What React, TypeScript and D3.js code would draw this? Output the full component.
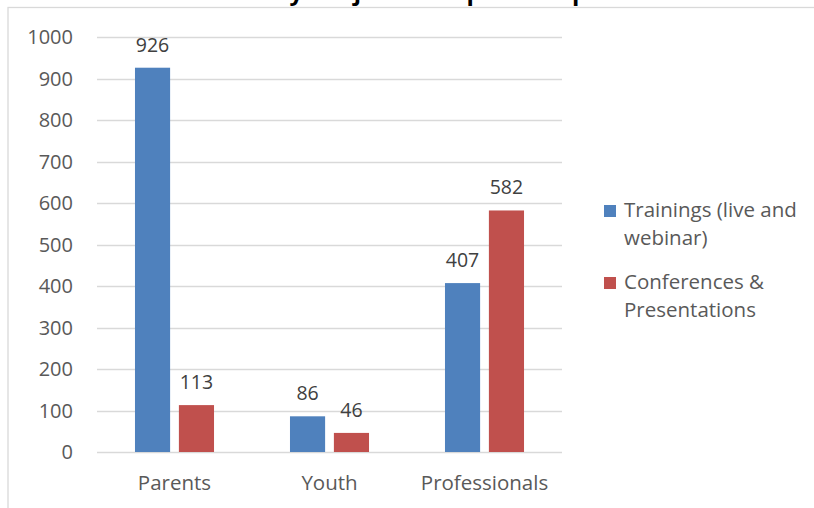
import React from 'react';
import * as d3 from 'd3';

const categories = ['Parents', 'Youth', 'Professionals'];
const seriesNames = ['Trainings (live and webinar)', 'Conferences & Presentations'];
const legendLines = [['Trainings (live and', 'webinar)'], ['Conferences &', 'Presentations']];
const trainings = [926, 86, 407];
const conferences = [113, 46, 582];
const yTicks = [0, 100, 200, 300, 400, 500, 600, 700, 800, 900, 1000];
const colors = ['#4f81bd', '#c0504d'];

const W = 814;
const H = 508;
const font = '"Open Sans", "DejaVu Sans", sans-serif';

export default function App() {
    const x = d3.scaleBand().domain(categories).range([97, 562]).paddingInner(0.49).paddingOuter(0.245);
    const xs = d3.scaleBand().domain(seriesNames).range([0, x.bandwidth()]).paddingInner(0.2);
    const y = d3.scaleLinear().domain([0, 1000]).range([452, 37]);
    const series = [trainings, conferences];

    return (
        <div style={{position: 'fixed', left: 0, top: 0}}>
            <svg width={W} height={H} style={{display: 'block', background: '#fff'}}>
                <rect x={8} y={7.5} width={W + 20} height={H + 20} fill="#fff" stroke="#d9d9d9" strokeWidth={1.3} />
                {/* title sits mostly above the visible area, only descenders show */}
                <text x={358} y={0} textAnchor="middle" fontFamily={font} fontWeight="bold" fontSize={24} fill="#000">
                    Attendance by Subject Area per Group
                </text>
                {yTicks.map(t => (
                    <g key={t}>
                        <line x1={97} x2={562} y1={Math.round(y(t)) + 0.5} y2={Math.round(y(t)) + 0.5}
                              stroke="#d9d9d9" strokeWidth={1.5} />
                        <text x={73} y={y(t)} dy="0.35em" textAnchor="end" fontFamily={font}
                              fontSize={20} fill="#595959">{t}</text>
                    </g>
                ))}
                {series.map((vals, si) => (
                    <g key={si}>
                        {categories.map((c, ci) => {
                            const bx = (x(c) || 0) + (xs(seriesNames[si]) || 0);
                            const v = vals[ci];
                            return (
                                <g key={c}>
                                    <rect x={bx} y={y(v)} width={xs.bandwidth()} height={y(0) - y(v)} fill={colors[si]} />
                                    <text x={bx + xs.bandwidth() / 2} y={y(v) - 16} textAnchor="middle"
                                          fontFamily={font} fontSize={19.5} fill="#404040">{v}</text>
                                </g>
                            );
                        })}
                    </g>
                ))}
                {categories.map(c => (
                    <text key={c} x={(x(c) || 0) + x.bandwidth() / 2} y={490} textAnchor="middle"
                          fontFamily={font} fontSize={20.5} fill="#595959">{c}</text>
                ))}
                {legendLines.map((lines, i) => (
                    <g key={i} transform={`translate(604, ${217 + i * 72})`}>
                        <rect x={0} y={-12} width={12} height={12} fill={colors[i]} />
                        {lines.map((l, li) => (
                            <text key={li} x={20} y={li * 28} fontFamily={font} fontSize={20.5} fill="#595959">{l}</text>
                        ))}
                    </g>
                ))}
            </svg>
        </div>
    );
}
